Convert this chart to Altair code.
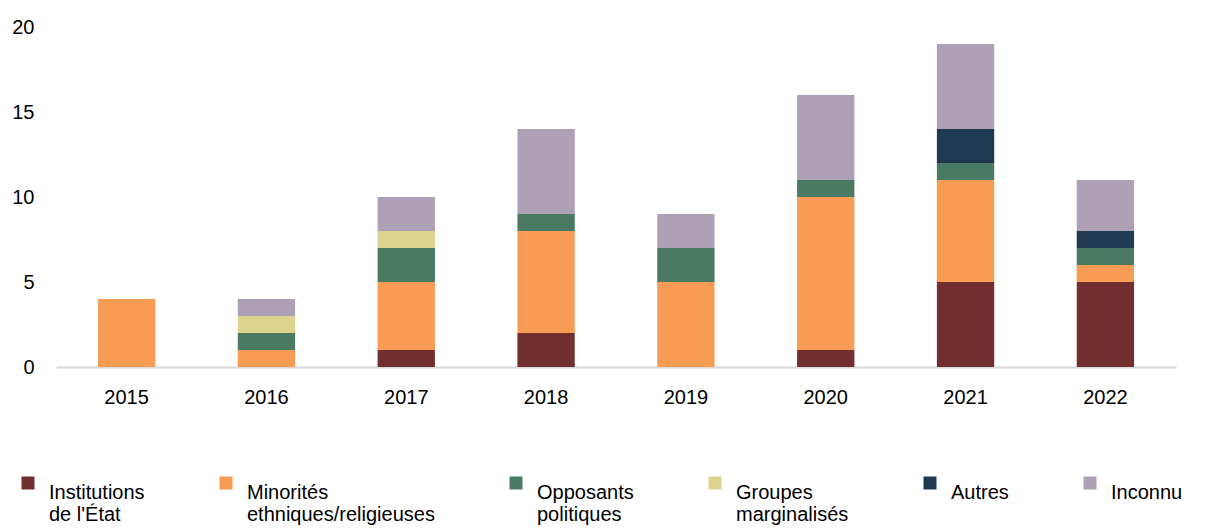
import altair as alt
import pandas as pd

years = ["2015", "2016", "2017", "2018", "2019", "2020", "2021", "2022"]
categories = [
    "Institutions|de l'État",
    "Minorités|ethniques/religieuses",
    "Opposants|politiques",
    "Groupes|marginalisés",
    "Autres",
    "Inconnu",
]
colors = ["#722F30", "#F79B55", "#4A7A63", "#DDD38F", "#1F3A50", "#AFA1B5"]

institutions = [0, 0, 1, 2, 0, 1, 5, 5]
minorites = [4, 1, 4, 6, 5, 9, 6, 1]
opposants = [0, 1, 2, 1, 2, 1, 1, 1]
groupes = [0, 1, 1, 0, 0, 0, 0, 0]
autres = [0, 0, 0, 0, 0, 0, 2, 1]
inconnu = [0, 1, 2, 5, 2, 5, 5, 3]

series = [institutions, minorites, opposants, groupes, autres, inconnu]
rows = []
for ci, (cat, vals) in enumerate(zip(categories, series)):
    for y, v in zip(years, vals):
        rows.append({"year": y, "cat": cat, "idx": ci, "value": v})
df = pd.DataFrame(rows)

FONT = "Liberation Sans"
FS = 20

legend_kw = dict(
    title=None, orient="none", legendX=-38, legendY=446,
    direction="horizontal", columns=6, gridAlign="none",
    columnPadding=71, symbolType="square", symbolSize=169,
    symbolStrokeWidth=0, labelFontSize=FS, labelFont=FONT,
    labelColor="#000", labelLimit=300,
    labelExpr="split(datum.label, '|')",
    labelBaseline="top", labelOffset=11,
)

chart = alt.Chart(df).mark_bar().encode(
    x=alt.X("year:N", title=None, sort=years,
            scale=alt.Scale(paddingInner=0.59, paddingOuter=0.3),
            axis=alt.Axis(labelAngle=0, ticks=False, domainColor="#d9d9d9",
                          domainWidth=2, labelPadding=20, labelFontSize=FS,
                          labelColor="#000", labelFont=FONT, grid=False)),
    y=alt.Y("value:Q", title=None, stack="zero",
            scale=alt.Scale(domain=[0, 20]),
            axis=alt.Axis(values=[0, 5, 10, 15, 20], ticks=False, domain=False,
                          grid=False, labelPadding=22, labelFontSize=FS,
                          labelColor="#000", labelFont=FONT)),
    color=alt.Color("cat:N", sort=categories,
                    scale=alt.Scale(domain=categories, range=colors),
                    legend=alt.Legend(**legend_kw)),
    order=alt.Order("idx:Q", sort="ascending"),
).properties(
    width=1120, height=340,
    padding={"top": 9, "left": 3, "right": 0, "bottom": 0},
).configure_view(stroke=None)

chart.save("out.html", embed_options={"renderer": "svg", "actions": False})
